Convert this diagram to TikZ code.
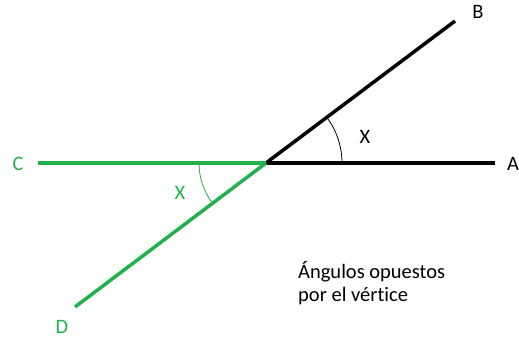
\documentclass[tikz,border=0pt]{standalone}
\usepackage{fontspec}
\setmainfont{Carlito}[Ligatures=NoCommon]
\usepackage{tikz}
\usepackage{xcolor}
\definecolor{paintgreen}{HTML}{22B14C}

\begin{document}
\begin{tikzpicture}[x=1pt,y=1pt,font=\fontsize{20.5}{23}\selectfont]
    \useasboundingbox (0,0) rectangle (519,338);
    \coordinate (O) at (266,175);
    \coordinate (A) at (495,175);
    \coordinate (B) at (455,317);
    \coordinate (C) at (38,175);
    \coordinate (D) at (75,31);

    % black sides
    \draw[line width=3.5pt, black] (O) -- (A);
    \draw[line width=3.5pt, black] (O) -- (B);
    \draw[line width=0.8pt, black] ([shift={(0:76)}]O) arc[start angle=0, end angle=37, radius=76];

    % green sides (opposite)
    \draw[line width=3.5pt, paintgreen] (O) -- (C);
    \draw[line width=3.5pt, paintgreen] (O) -- (D);
    \draw[line width=0.8pt, paintgreen] ([shift={(180:67)}]O) arc[start angle=180, end angle=217, radius=67];

    % labels
    \node (lA) at (513,174) {A};
    \node (lB) at (478,326) {B};
    \node[paintgreen] (lC) at (18,174) {C};
    \node[paintgreen] (lD) at (62,11) {D};
    \node (xA) at (365,201) {X};
    \node[paintgreen] (xC) at (180,145) {X};
    \node[align=left, anchor=west, inner sep=0pt] (note) at (298,55) {Ángulos opuestos\\por el vértice};
\end{tikzpicture}
\end{document}
